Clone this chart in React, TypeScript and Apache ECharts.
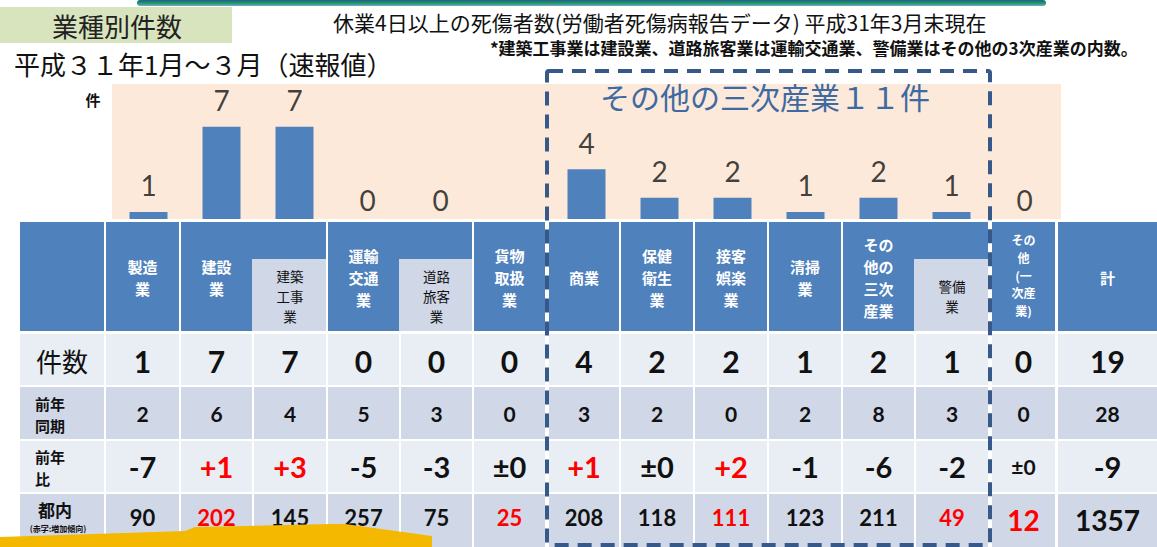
import React, { useEffect, useRef } from 'react';
import * as echarts from 'echarts';

// ---------------- data ----------------
const categories = ['製造業', '建設業', '建築工事業', '運輸交通業', '道路旅客業', '貨物取扱業', '商業', '保健衛生業', '接客娯楽業', '清掃業', 'その他の三次産業', '警備業', 'その他(一次産業)'];
const counts = [1, 7, 7, 0, 0, 0, 4, 2, 2, 1, 2, 1, 0];
const countLabelShown = [true, true, true, true, true, false, true, true, true, true, true, true, true];
const countTotal = 19;
const prevYear = [2, 6, 4, 5, 3, 0, 3, 2, 0, 2, 8, 3, 0];
const prevTotal = 28;
const yoyDiff = ['-7', '+1', '+3', '-5', '-3', '±0', '+1', '±0', '+2', '-1', '-6', '-2', '±0'];
const yoyTotal = '-9';
const tokyo = [90, 202, 145, 257, 75, 25, 208, 118, 111, 123, 211, 49, 12];
const tokyoTotal = 1357;
const tokyoUp = [false, true, false, false, false, true, false, false, true, false, false, true, true];
const headerLabels = ['製造\n業', '建設\n業', '建築\n工事\n業', '運輸\n交通\n業', '道路\n旅客\n業', '貨物\n取扱\n業', '商業', '保健\n衛生\n業', '接客\n娯楽\n業', '清掃\n業', 'その\n他の\n三次\n産業', '警備\n業', 'その\n他\n(一\n次産\n業)', '計'];
const rowLabels = ['件数', '前年\n同期', '前年\n比', '都内'];
const rowNote = '(赤字:増加傾向)';
const titleBox = '業種別件数';
const titleMain = '休業4日以上の死傷者数(労働者死傷病報告データ) 平成31年3月末現在';
const titleNote = '*建築工事業は建設業、道路旅客業は運輸交通業、警備業はその他の3次産業の内数。';
const periodText = '平成３１年1月～３月（速報値）';
const unitText = '件';
const groupTitle = 'その他の三次産業１１件';

// ---------------- layout ----------------
const JP = '"Noto Sans CJK JP", sans-serif';
const NUM = 'Lato, "Noto Sans CJK JP", sans-serif';
const BLUE = '#4f81bd';
const LIGHT = '#e9edf4';
const DARK = '#d0d8e8';
const RED = '#ff0000';
const COLS: number[][] = [[106, 179], [181, 252], [254, 326], [328, 399], [401, 472], [474, 545], [549, 619], [621, 693], [695, 767], [769, 841], [843, 914], [916, 988], [992, 1055], [1058, 1157]];
const SUB_COLS = [2, 4, 11];
const ROWHEAD = [20, 104];
const HEAD_Y0 = 222;
const HEAD_Y1 = 331;
const SUB_Y = 259;
const ROWS: number[][] = [[334, 385], [387, 439], [441, 492], [494, 547]];

function rect(x0: number, y0: number, x1: number, y1: number, fill: any, z = 2) {
  return { type: 'rect', silent: true, z, shape: { x: x0, y: y0, width: x1 - x0, height: y1 - y0 }, style: { fill } };
}
function txt(x: number, y: number, text: string, o: any = {}) {
  return {
    type: 'text', silent: true, z: o.z ?? 20, x, y,
    style: {
      text, fill: o.color ?? '#111', fontSize: o.size ?? 16, fontFamily: o.family ?? JP,
      fontWeight: o.weight ?? 'normal', align: o.align ?? 'center', verticalAlign: o.va ?? 'middle',
      lineHeight: o.lh,
    },
  };
}

function buildGraphics() {
  const g: any[] = [];
  // top decorative bar
  g.push({
    type: 'rect', silent: true, z: 5, shape: { x: 137, y: 0, width: 909, height: 6, r: 3 },
    style: { fill: new echarts.graphic.LinearGradient(0, 0, 0, 1, [{ offset: 0, color: '#2b5797' }, { offset: 0.55, color: '#19a05b' }, { offset: 1, color: '#7aa6d6' }]) },
  });
  g.push(rect(0, 7, 232, 43, '#d7e4bd'));
  g.push(txt(117, 25, titleBox, { size: 26, color: '#222' }));
  g.push(txt(333, 22, titleMain, { size: 21, align: 'left' }));
  g.push(txt(490, 47, titleNote, { size: 17, align: 'left', weight: 'bold' }));
  g.push(txt(14, 63, periodText, { size: 26, align: 'left' }));
  g.push(txt(93, 99, unitText, { size: 15, weight: 'bold' }));
  g.push(txt(600, 96, groupTitle, { size: 30, align: 'left', color: '#3d6aa3' }));

  // header row
  g.push(rect(ROWHEAD[0], HEAD_Y0, ROWHEAD[1], HEAD_Y1, BLUE));
  COLS.forEach(([x0, x1], i) => {
    const cx = (x0 + x1) / 2;
    if (SUB_COLS.includes(i)) {
      const px0 = COLS[i - 1][0];
      g.push(rect(px0, HEAD_Y0, x1, SUB_Y, BLUE, 3));
      g.push(rect(x0 - 2, SUB_Y, x1, HEAD_Y1, DARK, 3));
      g.push(txt(cx, 296, headerLabels[i], { size: 13.5, lh: 20, color: '#111' }));
    } else {
      g.push(rect(x0, HEAD_Y0, x1, HEAD_Y1, BLUE));
      const small = i === 12;
      g.push(txt(cx, small ? 275 : 277, headerLabels[i], { size: small ? 12 : 15, lh: small ? 17.6 : 22, color: '#fff', weight: 'bold' }));
    }
  });

  // data rows
  ROWS.forEach(([y0, y1], r) => {
    const fill = r % 2 === 0 ? LIGHT : DARK;
    const cy = (y0 + y1) / 2;
    g.push(rect(ROWHEAD[0], y0, ROWHEAD[1], y1, fill));
    if (r === 0) g.push(txt(62, cy + 1, rowLabels[r], { size: 26 }));
    else if (r === 3) {
      g.push(txt(55, 509, rowLabels[r], { size: 17, weight: 'bold' }));
      g.push(txt(58, 528, rowNote, { size: 8, weight: 'bold' }));
    } else g.push(txt(35, cy + 1, rowLabels[r], { size: 15, weight: 'bold', lh: 22, align: 'left' }));

    COLS.forEach(([x0, x1], i) => {
      g.push(rect(x0, y0, x1, y1, fill));
      const cx = (x0 + x1) / 2;
      const isTotal = i === COLS.length - 1;
      if (r === 0) {
        g.push(txt(cx, cy + 1, String(isTotal ? countTotal : counts[i]), { size: 30, weight: 'bold', family: NUM }));
      } else if (r === 1) {
        g.push(txt(cx, cy, String(isTotal ? prevTotal : prevYear[i]), { size: 21, weight: 'bold', family: NUM }));
      } else if (r === 2) {
        const v = isTotal ? yoyTotal : yoyDiff[i];
        g.push(txt(cx, cy, v, { size: i === 12 ? 21 : 29, weight: 'bold', family: NUM, color: v.startsWith('+') ? RED : '#111' }));
      } else {
        const v = isTotal ? tokyoTotal : tokyo[i];
        const up = !isTotal && tokyoUp[i];
        const big = isTotal || i === 12;
        g.push(txt(cx, big ? 520 : 517, String(v), { size: big ? 28 : 22, weight: 'bold', family: NUM, color: up ? RED : '#111' }));
      }
    });
  });

  // dashed frame around "other tertiary industries"
  g.push({
    type: 'rect', silent: true, z: 30, shape: { x: 547, y: 71, width: 443, height: 474, r: 2 },
    style: { fill: 'none', stroke: '#36598a', lineWidth: 4, lineDash: [14, 9] },
  });
  // yellow banner at bottom left
  g.push({
    type: 'polygon', silent: true, z: 25,
    shape: { points: [[0, 537], [185, 531], [195, 527], [330, 524], [345, 524], [432, 536], [432, 547], [0, 547]] },
    style: { fill: '#f5b800' },
  });
  return g;
}

export default function App() {
  const ref = useRef<HTMLDivElement>(null);
  useEffect(() => {
    document.body.style.margin = '0';
    const chart = echarts.init(ref.current!, null, { renderer: 'svg' });
    chart.setOption({
      animation: false,
      backgroundColor: '#ffffff',
      grid: { left: 112, top: 84, width: 949, height: 135, show: true, backgroundColor: '#fde9d9', borderWidth: 0 },
      xAxis: { type: 'category', data: categories, axisLine: { show: false }, axisTick: { show: false }, axisLabel: { show: false }, splitLine: { show: false } },
      yAxis: { type: 'value', min: 0.5, max: 10, show: false, splitLine: { show: false } },
      series: [
        { type: 'bar', data: counts, barWidth: 38, itemStyle: { color: BLUE }, clip: true, z: 3, silent: true },
        {
          type: 'scatter', symbolSize: 1, itemStyle: { color: 'rgba(0,0,0,0)' }, clip: false, silent: true, z: 4,
          data: counts.map((v, i) => ({ value: v, label: { show: countLabelShown[i] } })),
          label: { show: true, position: 'top', distance: 12, fontSize: 28, fontFamily: NUM, color: '#111', formatter: (p: any) => String(p.value) },
        },
      ],
      graphic: { elements: buildGraphics() },
    });
    return () => chart.dispose();
  }, []);
  return <div ref={ref} style={{ width: 1157, height: 547 }} />;
}
